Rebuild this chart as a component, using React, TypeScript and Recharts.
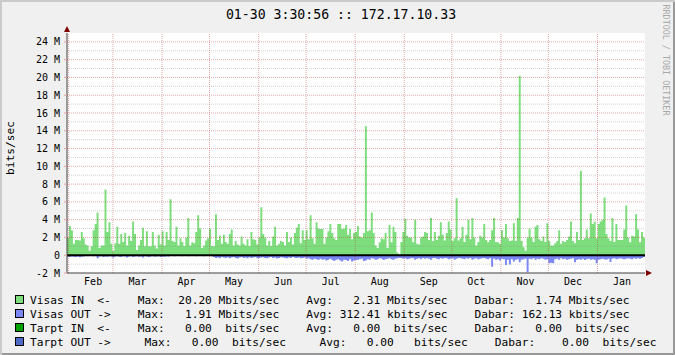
import React from "react";
import {
  ComposedChart,
  Area,
  XAxis,
  YAxis,
  CartesianGrid,
  ReferenceLine,
  ReferenceDot,
} from "recharts";

const font = "'DejaVu Sans Mono', monospace";

// Visas IN, Mbits/sec, about two days per value, Jan 31 -> Jan 30
const visasIn = [
  2.0, 3.3, 2.8, 1.3, 1.7, 1.7, 1.65, 2.6, 1.9, 1.2,
  1.1, 0.5, 1.0, 2.8, 3.5, 4.8, 0.8, 1.1, 1.1, 7.4,
  2.6, 3.7, 1.3, 0.5, 1.35, 3.2, 1.3, 2.4, 1.5, 2.5,
  1.1, 2.2, 1.6, 3.8, 2.4, 0.6, 1.1, 1.7, 3.1, 1.0,
  2.7, 1.0, 1.0, 2.6, 1.1, 0.75, 2.3, 1.2, 2.7, 1.1,
  2.6, 1.7, 6.3, 1.6, 1.5, 3.2, 1.1, 1.9, 1.5, 1.05,
  2.0, 4.2, 1.1, 1.45, 1.35, 2.6, 4.5, 3.0, 0.8, 1.1,
  1.65, 1.9, 3.0, 1.05, 1.0, 4.6, 1.7, 2.2, 1.3, 2.3,
  1.5, 1.3, 2.4, 2.9, 1.1, 1.6, 1.2, 1.1, 2.1, 1.3,
  1.1, 1.8, 1.05, 2.6, 1.8, 1.7, 1.2, 2.0, 5.4, 2.4,
  2.0, 1.1, 1.6, 1.05, 2.1, 3.2, 1.1, 1.3, 1.6, 1.5,
  1.1, 2.6, 1.5, 2.0, 1.2, 2.5, 3.1, 3.5, 1.35, 2.8,
  1.7, 2.8, 1.8, 4.5, 1.9, 1.3, 3.7, 3.0, 2.95, 2.95,
  1.3, 2.0, 2.7, 3.5, 2.5, 1.9, 1.7, 3.5, 3.5, 2.95,
  3.0, 3.4, 2.3, 2.95, 1.8, 2.5, 2.6, 3.3, 2.1,
  2.0, 2.5, 14.5, 2.7, 2.8, 4.8, 2.5, 1.1, 0.8, 1.45,
  1.9, 1.8, 2.5, 0.8, 3.4, 1.45, 3.2, 2.6, 0.3, 0.1,
  1.5, 2.6, 4.1, 2.2, 2.0, 2.0, 1.45, 4.0, 1.3, 1.2,
  2.0, 2.1, 2.6, 2.5, 1.7, 4.2, 1.6, 2.6, 1.7, 2.2,
  3.7, 2.3, 1.65, 2.5, 3.8, 2.9, 1.6, 1.9, 6.4, 1.65,
  1.9, 3.2, 1.5, 2.3, 4.0, 1.8, 4.2, 2.0, 1.1, 1.5,
  2.2, 2.0, 3.5, 1.7, 1.45, 1.7, 2.8, 4.2, 1.5, 1.45,
  1.3, 2.8, 2.0, 3.5, 1.9, 1.6, 1.65, 3.6, 1.6, 4.2,
  20.2, 1.6, 0.9, 0.5, 2.0, 3.0, 2.0, 1.5, 3.2, 3.4,
  1.8, 1.6, 2.1, 1.5, 3.6, 1.6, 1.1, 1.1, 1.35, 1.6,
  2.8, 1.3, 1.6, 1.5, 1.7, 2.1, 3.8, 1.6, 1.35, 2.6,
  1.7, 9.5, 1.7, 1.9, 2.9, 1.9, 4.7, 3.5, 3.8, 1.9,
  3.5, 3.8, 4.0, 6.5, 2.4, 1.9, 1.6, 4.2, 1.5, 3.5,
  1.7, 1.7, 1.7, 2.9, 5.6, 2.0, 1.45, 2.2, 2.1, 4.6,
  2.9, 1.45, 2.6, 2.0,
];

// Visas OUT, Mbits/sec (drawn below zero)
const visasOut = [
  0.18, 0.2, 0.15, 0.18, 0.2, 0.15, 0.22, 0.18, 0.15,
  0.1, 0.12, 0.1, 0.1, 0.12, 0.1,
  0.35,
  0.15, 0.12, 0.2, 0.15, 0.18, 0.12, 0.15, 0.25, 0.15, 0.12,
  0.18, 0.2, 0.12, 0.15, 0.25, 0.15, 0.12, 0.2, 0.15, 0.12,
  0.18, 0.15, 0.25, 0.12, 0.15, 0.2, 0.15, 0.12, 0.18, 0.15,
  0.12, 0.2, 0.15, 0.18, 0.12, 0.15,
  0.1, 0.08, 0.12, 0.1, 0.1, 0.08, 0.12, 0.1, 0.1, 0.12,
  0.08, 0.1, 0.1, 0.12, 0.1, 0.08, 0.1, 0.12, 0.1, 0.1,
  0.08, 0.12,
  0.2, 0.3, 0.25, 0.35, 0.2, 0.25, 0.3, 0.22, 0.35, 0.25,
  0.2, 0.3, 0.38, 0.25, 0.2, 0.3, 0.25, 0.35, 0.22, 0.3,
  0.25, 0.2, 0.35, 0.3, 0.25, 0.22, 0.3, 0.35, 0.25, 0.2,
  0.3, 0.25, 0.38, 0.3, 0.22, 0.25, 0.3, 0.35, 0.25, 0.3,
  0.2, 0.28, 0.3, 0.25, 0.35, 0.3, 0.25,
  0.4, 0.35, 0.45, 0.5, 0.4, 0.45, 0.55, 0.4, 0.5, 0.45,
  0.6, 0.5, 0.4, 0.55, 0.65, 0.5, 0.45, 0.6, 0.7, 0.5,
  0.55, 0.65, 0.45, 0.7, 0.6, 0.55, 0.5, 0.45,
  0.4, 0.65, 0.6, 0.45, 0.5, 0.35, 0.4, 0.5, 0.45, 0.35,
  0.4, 0.55, 0.45, 0.4, 0.35, 0.45, 0.5, 0.4, 0.35, 0.3,
  0.3, 0.4, 0.35, 0.45, 0.4, 0.3, 0.35, 0.5, 0.4, 0.35,
  0.45, 0.3, 0.4, 0.35, 0.4, 0.5, 0.35, 0.3, 0.4, 0.45,
  0.35, 0.4, 0.3, 0.35, 0.45, 0.4, 0.35, 0.5, 0.4, 0.3,
  0.35, 0.4, 0.45, 0.35, 0.4, 0.3, 0.5, 0.4, 0.35, 0.45,
  0.4, 0.35, 0.3, 0.4, 0.45, 0.35,
  1.3,
  0.4, 0.5, 0.45, 0.6, 0.4, 0.45,
  1.1, 0.5, 1.05, 0.45, 0.7, 0.5, 0.45, 0.8,
  0.5, 0.45, 0.4,
  1.91,
  0.4, 0.45, 0.35, 0.5, 0.4, 0.45, 0.35, 0.4, 0.5, 0.45,
  0.9, 0.85, 0.9,
  0.45, 0.4, 0.5, 0.35, 0.45, 0.4, 0.5, 0.45, 0.4, 0.35,
  0.8, 0.5,
  0.45, 0.5, 0.4, 0.55, 0.45, 0.4, 0.5, 0.45, 0.5,
  0.9,
  0.5, 0.45, 0.4, 0.45, 0.5, 0.4,
  0.75,
  0.4, 0.35, 0.45, 0.4, 0.35, 0.4, 0.45, 0.4, 0.35, 0.4,
  0.45, 0.35, 0.4, 0.35, 0.4, 0.3, 0.2,
];

const periodDays = 365; // days shown, starting Jan 31
const monthNames = ["Feb", "Mar", "Apr", "May", "Jun", "Jul", "Aug", "Sep", "Oct", "Nov", "Dec", "Jan"];
const monthStarts = [1, 29, 60, 90, 121, 151, 182, 213, 243, 274, 304, 335];
const yTicks = [-2, 0, 2, 4, 6, 8, 10, 12, 14, 16, 18, 20, 22, 24];

const title = "01-30 3:30:56 :: 172.17.10.33";
const credit = "RRDTOOL / TOBI OETIKER";
const legendColors = ["#7ede7e", "#7c87f6", "#00a000", "#4d6bc6"];
const legendLines = [
  "Visas IN  <-    Max:  20.20 Mbits/sec    Avg:   2.31 Mbits/sec    Dabar:   1.74 Mbits/sec",
  "Visas OUT ->    Max:   1.91 Mbits/sec    Avg: 312.41 kbits/sec    Dabar: 162.13 kbits/sec",
  "Tarpt IN  <-    Max:   0.00  bits/sec    Avg:   0.00  bits/sec    Dabar:   0.00  bits/sec",
  "Tarpt OUT ->     Max:   0.00  bits/sec     Avg:   0.00   bits/sec    Dabar:    0.00  bits/sec",
];

const n = visasIn.length;
const data = visasIn.map((v, i) => ({
  day: (i * periodDays) / n,
  inV: v,
  outV: -(visasOut[i] ?? 0),
}));
data.push({ day: periodDays, inV: visasIn[n - 1], outV: -visasOut[visasOut.length - 1] });

const labelDays = monthStarts.map((d) => d + 15.5);
const gridYs = Array.from({ length: 26 }, (_, k) => k - 1);

const upArrow = (p: any) => (
  <path d={`M${p.cx - 3},${p.cy - 1} L${p.cx + 3},${p.cy - 1} L${p.cx},${p.cy - 7} Z`} fill="#7f0000" />
);
const rightArrow = (p: any) => (
  <path d={`M${p.cx + 1},${p.cy - 3} L${p.cx + 1},${p.cy + 3} L${p.cx + 7},${p.cy} Z`} fill="#7f0000" />
);

export default function App() {
  return (
    <div
      style={{
        position: "absolute",
        left: 0,
        top: 0,
        width: 675,
        height: 355,
        background: "#f0f0f0",
        boxShadow: "inset 2px 2px 0 #cbcbcb, inset -2px -2px 0 #999999",
      }}
    >
      <ComposedChart
        width={675}
        height={355}
        data={data}
        margin={{ top: 33, right: 30, bottom: 62, left: 0 }}
        style={{ position: "absolute", left: 0, top: 0 }}
      >
        <CartesianGrid fill="#ffffff" horizontal={false} vertical={false} />
        <XAxis
          dataKey="day"
          type="number"
          domain={[0, periodDays]}
          ticks={labelDays}
          interval={0}
          tickFormatter={(_v: number, i: number) => monthNames[i]}
          height={20}
          tickLine={false}
          tickSize={0}
          tickMargin={5}
          axisLine={{ stroke: "#404040" }}
          tick={{ fill: "#000", fontSize: 10, fontFamily: font }}
        />
        <YAxis
          type="number"
          domain={[-2, 25]}
          ticks={yTicks}
          interval={0}
          width={67}
          tickSize={3}
          tickMargin={4}
          tickFormatter={(v: number) => (v === 0 ? "0" : `${v} M`)}
          tickLine={{ stroke: "#e0a0a0" }}
          axisLine={{ stroke: "#404040" }}
          tick={{ fill: "#000", fontSize: 10, fontFamily: font }}
        />
        <Area
          type="stepAfter"
          dataKey="inV"
          baseValue={0}
          fill="#7ede7e"
          fillOpacity={1}
          stroke="none"
          isAnimationActive={false}
        />
        <Area
          type="stepAfter"
          dataKey="outV"
          baseValue={0}
          fill="#7c87f6"
          fillOpacity={1}
          stroke="none"
          isAnimationActive={false}
        />
        {gridYs.map((y) => (
          <ReferenceLine
            key={`h${y}`}
            y={y}
            stroke={y % 2 === 0 ? "#c02020" : "#808080"}
            strokeOpacity={y % 2 === 0 ? 0.38 : 0.35}
            strokeDasharray="1 1"
          />
        ))}
        {monthStarts.map((d) => (
          <ReferenceLine key={`v${d}`} x={d} stroke="#c02020" strokeOpacity={0.38} strokeDasharray="1 1" />
        ))}
        <ReferenceLine y={0} stroke="#000" strokeWidth={2} />
        <ReferenceDot x={0} y={25} r={3} shape={upArrow} ifOverflow="visible" />
        <ReferenceDot x={periodDays} y={-2} r={3} shape={rightArrow} ifOverflow="visible" />
      </ComposedChart>
      <svg
        width={675}
        height={355}
        style={{ position: "absolute", left: 0, top: 0, pointerEvents: "none" }}
        fontFamily={font}
      >
        <text x={341} y={18.7} textAnchor="middle" fontSize={13.2} fill="#000">
          {title}
        </text>
        <text
          transform="translate(10,148) rotate(-90)"
          textAnchor="middle"
          dominantBaseline="central"
          fontSize={11.2}
          fill="#000"
        >
          bits/sec
        </text>
        <text
          transform="translate(666,60) rotate(90)"
          textAnchor="middle"
          dominantBaseline="central"
          fontSize={8.4}
          fill="#a8a8a8"
        >
          {credit}
        </text>
        {legendLines.map((line, i) => (
          <g key={i}>
            <rect x={15.5} y={295.5 + i * 14} width={8} height={8} fill={legendColors[i]} stroke="#000" strokeWidth={1} />
            <text x={30} y={303.5 + i * 14} fontSize={11.2} fill="#000" xmlSpace="preserve" style={{ whiteSpace: "pre" }}>
              {line}
            </text>
          </g>
        ))}
      </svg>
    </div>
  );
}
